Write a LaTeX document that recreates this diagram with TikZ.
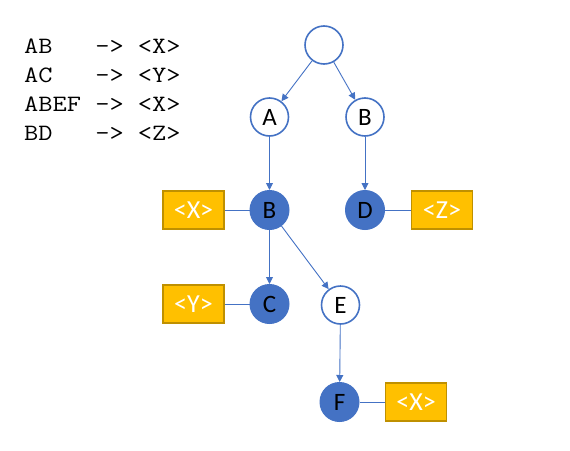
\documentclass[tikz,border=0pt]{standalone}
\usepackage{fontspec}
\newfontfamily\courfont[FakeStretch=1.18]{Latin Modern Mono}
\newfontfamily\carlitofont{Carlito}
\usetikzlibrary{arrows.meta}
\definecolor{nblue}{HTML}{4472C4}
\definecolor{bfill}{HTML}{FFC000}
\definecolor{bdraw}{HTML}{BF9000}
\tikzset{
  emptynode/.style={circle,draw=nblue,line width=1.6pt,fill=white,minimum size=38pt,inner sep=0pt,font=\carlitofont\fontsize{25}{25}\selectfont},
  fullnode/.style={circle,draw=nblue,line width=1pt,fill=nblue,minimum size=39pt,inner sep=0pt,font=\carlitofont\fontsize{25}{25}\selectfont},
  valbox/.style={rectangle,draw=bdraw,line width=1.4pt,fill=bfill,minimum width=61pt,minimum height=38pt,inner sep=0pt,text=white,font=\carlitofont\fontsize{26}{26}\selectfont},
  edge/.style={draw=nblue,line width=0.9pt,-{Triangle[length=7pt,width=7pt]}},
  link/.style={draw=nblue,line width=0.9pt},
  rule/.style={anchor=base west,inner sep=0pt,font=\courfont\fontsize{23.4}{23.4}\selectfont}
}
\begin{document}
\begin{tikzpicture}[x=1pt,y=-1pt]
\useasboundingbox (0,0) rectangle (570,450);
\node[rule] (r1) at (24,53) {AB~~~->~<X>};
\node[rule] (r2) at (24,82) {AC~~~->~<Y>};
\node[rule] (r3) at (24,111) {ABEF~->~<X>};
\node[rule] (r4) at (24,140) {BD~~~->~<Z>};

\node[emptynode] (root) at (324,45) {};
\node[emptynode] (A) at (269.5,117) {A};
\node[emptynode] (B1) at (365,117) {B};
\node[fullnode] (B2) at (269.5,210) {B};
\node[fullnode] (D) at (365,210) {D};
\node[fullnode] (C) at (269.5,304) {C};
\node[emptynode] (E) at (340.5,305) {E};
\node[fullnode] (F) at (339.5,402) {F};

\node[valbox] (x1) at (193.5,210) {<X>};
\node[valbox] (z) at (442,210) {<Z>};
\node[valbox] (y) at (193.5,304) {<Y>};
\node[valbox] (x2) at (416,402) {<X>};

\draw[edge] (root) -- (A);
\draw[edge] (root) -- (B1);
\draw[edge] (A) -- (B2);
\draw[edge] (B1) -- (D);
\draw[edge] (B2) -- (C);
\draw[edge] (B2) -- (E);
\draw[edge] (E) -- (F);

\draw[link] (x1) -- (B2);
\draw[link] (D) -- (z);
\draw[link] (y) -- (C);
\draw[link] (F) -- (x2);
\end{tikzpicture}
\end{document}
